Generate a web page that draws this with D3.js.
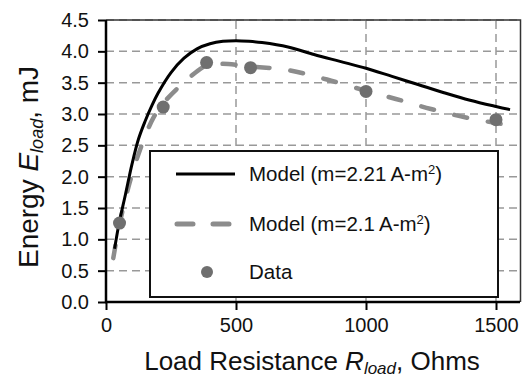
<!DOCTYPE html>
<html>
<head>
<meta charset="utf-8">
<script src="https://cdn.jsdelivr.net/npm/d3@7"></script>
<style>
  body { margin: 0; background: #fff; }
  text { font-family: "Liberation Sans", Arial, sans-serif; fill: #111; }
</style>
</head>
<body>
<svg id="chart" width="522" height="378"></svg>
<script>
// model curve, m = 2.21 A-m2 (ohms, mJ)
var model221R = [33, 50, 75, 100, 125, 150, 175, 200, 250, 300, 350, 400, 450, 500, 550, 600, 700, 800, 900, 1000, 1100, 1200, 1300, 1400, 1500, 1554];
var model221E = [0.85, 1.25, 1.72, 2.2, 2.6, 2.88, 3.12, 3.33, 3.66, 3.89, 4.04, 4.12, 4.16, 4.17, 4.16, 4.14, 4.07, 3.95, 3.84, 3.73, 3.6, 3.47, 3.34, 3.22, 3.12, 3.07];

// model curve, m = 2.1 A-m2
var model21R = [28, 50, 92, 137, 181, 220, 280, 320, 385, 440, 554, 700, 850, 1000, 1115, 1250, 1400, 1554];
var model21E = [0.7, 1.2, 1.92, 2.5, 2.93, 3.17, 3.43, 3.58, 3.77, 3.8, 3.76, 3.7, 3.55, 3.37, 3.24, 3.08, 2.93, 2.82];

// measured
var dataR = [52, 220, 387, 556, 1000, 1500];
var dataE = [1.26, 3.11, 3.82, 3.74, 3.36, 2.91];

var xTicks = [0, 500, 1000, 1500];
var yTicks = [0, 0.5, 1, 1.5, 2, 2.5, 3, 3.5, 4, 4.5];

var legendLabels = [["Model (m=2.21\u2009A-m", ")"], ["Model (m=2.1\u2009A-m", ")"], ["Data", null]];

var svg = d3.select("#chart");

var x = d3.scaleLinear().domain([0, 1600]).range([106, 522]);
var y = d3.scaleLinear().domain([0, 4.5]).range([302, 20]);

// gridlines
var grid = svg.append("g");
grid.selectAll(".hg")
  .data(yTicks.slice(1))
  .enter().append("line")
  .attr("x1", x(0)).attr("x2", 520)
  .attr("y1", function(d) { return y(d); })
  .attr("y2", function(d) { return y(d); })
  .style("stroke", "#999")
  .style("stroke-width", 1.5)
  .style("stroke-dasharray", "8,5");

grid.selectAll(".vg")
  .data(xTicks.slice(1))
  .enter().append("line")
  .attr("x1", function(d) { return x(d); })
  .attr("x2", function(d) { return x(d); })
  .attr("y1", y(0)).attr("y2", y(4.5))
  .style("stroke", "#999")
  .style("stroke-width", 1.5)
  .style("stroke-dasharray", "8,5");

// frame
svg.append("path")
  .attr("d", "M" + x(0) + "," + y(4.5) + "H520.5V" + y(0))
  .style("fill", "none")
  .style("stroke", "#333")
  .style("stroke-width", 1.5);

var line = d3.line()
  .x(function(d) { return x(d[0]); })
  .y(function(d) { return y(d[1]); })
  .curve(d3.curveCatmullRom);

var gray = d3.zip(model21R, model21E);
var black = d3.zip(model221R, model221E);

svg.append("path")
  .datum(gray)
  .attr("d", line)
  .style("fill", "none")
  .style("stroke", "#8c8c8c")
  .style("stroke-width", 4.5)
  .style("stroke-linecap", "round")
  .style("stroke-dasharray", "13,21");

svg.append("path")
  .datum(black)
  .attr("d", line)
  .style("fill", "none")
  .style("stroke", "#000")
  .style("stroke-width", 3);

svg.selectAll(".dot")
  .data(d3.zip(dataR, dataE))
  .enter().append("circle")
  .attr("class", "dot")
  .attr("cx", function(d) { return x(d[0]); })
  .attr("cy", function(d) { return y(d[1]); })
  .attr("r", 6.5)
  .style("fill", "#6f6f6f");

// axes
var xAxis = d3.axisBottom(x).tickValues(xTicks).tickSize(8).tickPadding(8).tickFormat(d3.format("d"));
var yAxis = d3.axisLeft(y).tickValues(yTicks).tickSize(8).tickPadding(9).tickFormat(d3.format(".1f"));

var gx = svg.append("g")
  .attr("transform", "translate(0," + y(0) + ")")
  .call(xAxis);
var gy = svg.append("g")
  .attr("transform", "translate(" + x(0) + ",0)")
  .call(yAxis);

[gx, gy].forEach(function(g) {
  g.select(".domain").remove();
  g.selectAll(".tick line").style("stroke", "#000").style("stroke-width", 2);
  g.selectAll(".tick text")
    .style("font-size", "20px")
    .style("font-family", "Liberation Sans, Arial, sans-serif")
    .style("fill", "#111");
});

svg.append("line")
  .attr("x1", x(0)).attr("x2", x(0)).attr("y1", y(4.5)).attr("y2", y(0) + 1)
  .style("stroke", "#000").style("stroke-width", 2.5);
svg.append("line")
  .attr("x1", x(0) - 1).attr("x2", 520).attr("y1", y(0)).attr("y2", y(0))
  .style("stroke", "#000").style("stroke-width", 2.5);

// legend
var lg = svg.append("g");
lg.append("rect")
  .attr("x", 150).attr("y", 151)
  .attr("width", 348).attr("height", 146)
  .style("fill", "#fff")
  .style("stroke", "#111")
  .style("stroke-width", 2);

var rowY = [174, 224, 272];

lg.append("line")
  .attr("x1", 176).attr("x2", 235).attr("y1", rowY[0]).attr("y2", rowY[0])
  .style("stroke", "#000").style("stroke-width", 3);
lg.append("line")
  .attr("x1", 177).attr("x2", 234).attr("y1", rowY[1]).attr("y2", rowY[1])
  .style("stroke", "#8c8c8c").style("stroke-width", 5)
  .style("stroke-linecap", "round")
  .style("stroke-dasharray", "16,20");
lg.append("circle")
  .attr("cx", 207).attr("cy", rowY[2]).attr("r", 6)
  .style("fill", "#6f6f6f");

lg.selectAll(".lt")
  .data(legendLabels)
  .enter().append("text")
  .attr("x", 249)
  .attr("y", function(d, i) { return rowY[i] + 7; })
  .style("font-size", "20.5px")
  .each(function(d) {
    var t = d3.select(this);
    t.append("tspan").text(d[0]);
    if (d[1]) {
      t.append("tspan").attr("dy", -7).style("font-size", "13px").text("2");
      t.append("tspan").attr("dy", 7).text(d[1]);
    }
  });

// axis titles
var xt = svg.append("text")
  .attr("x", 312).attr("y", 370)
  .style("text-anchor", "middle")
  .style("font-size", "26px");
xt.append("tspan").text("Load Resistance ");
xt.append("tspan").style("font-style", "italic").text("R");
xt.append("tspan").style("font-style", "italic").style("font-size", "17px").attr("dy", 4).text("load");
xt.append("tspan").attr("dy", -4).text(", Ohms");

var yt = svg.append("text")
  .attr("transform", "translate(38,167) rotate(-90)")
  .style("text-anchor", "middle")
  .style("font-size", "28px");
yt.append("tspan").text("Energy ");
yt.append("tspan").style("font-style", "italic").text("E");
yt.append("tspan").style("font-style", "italic").style("font-size", "18px").attr("dy", 5).text("load");
yt.append("tspan").attr("dy", -5).text(", mJ");
</script>
</body>
</html>
